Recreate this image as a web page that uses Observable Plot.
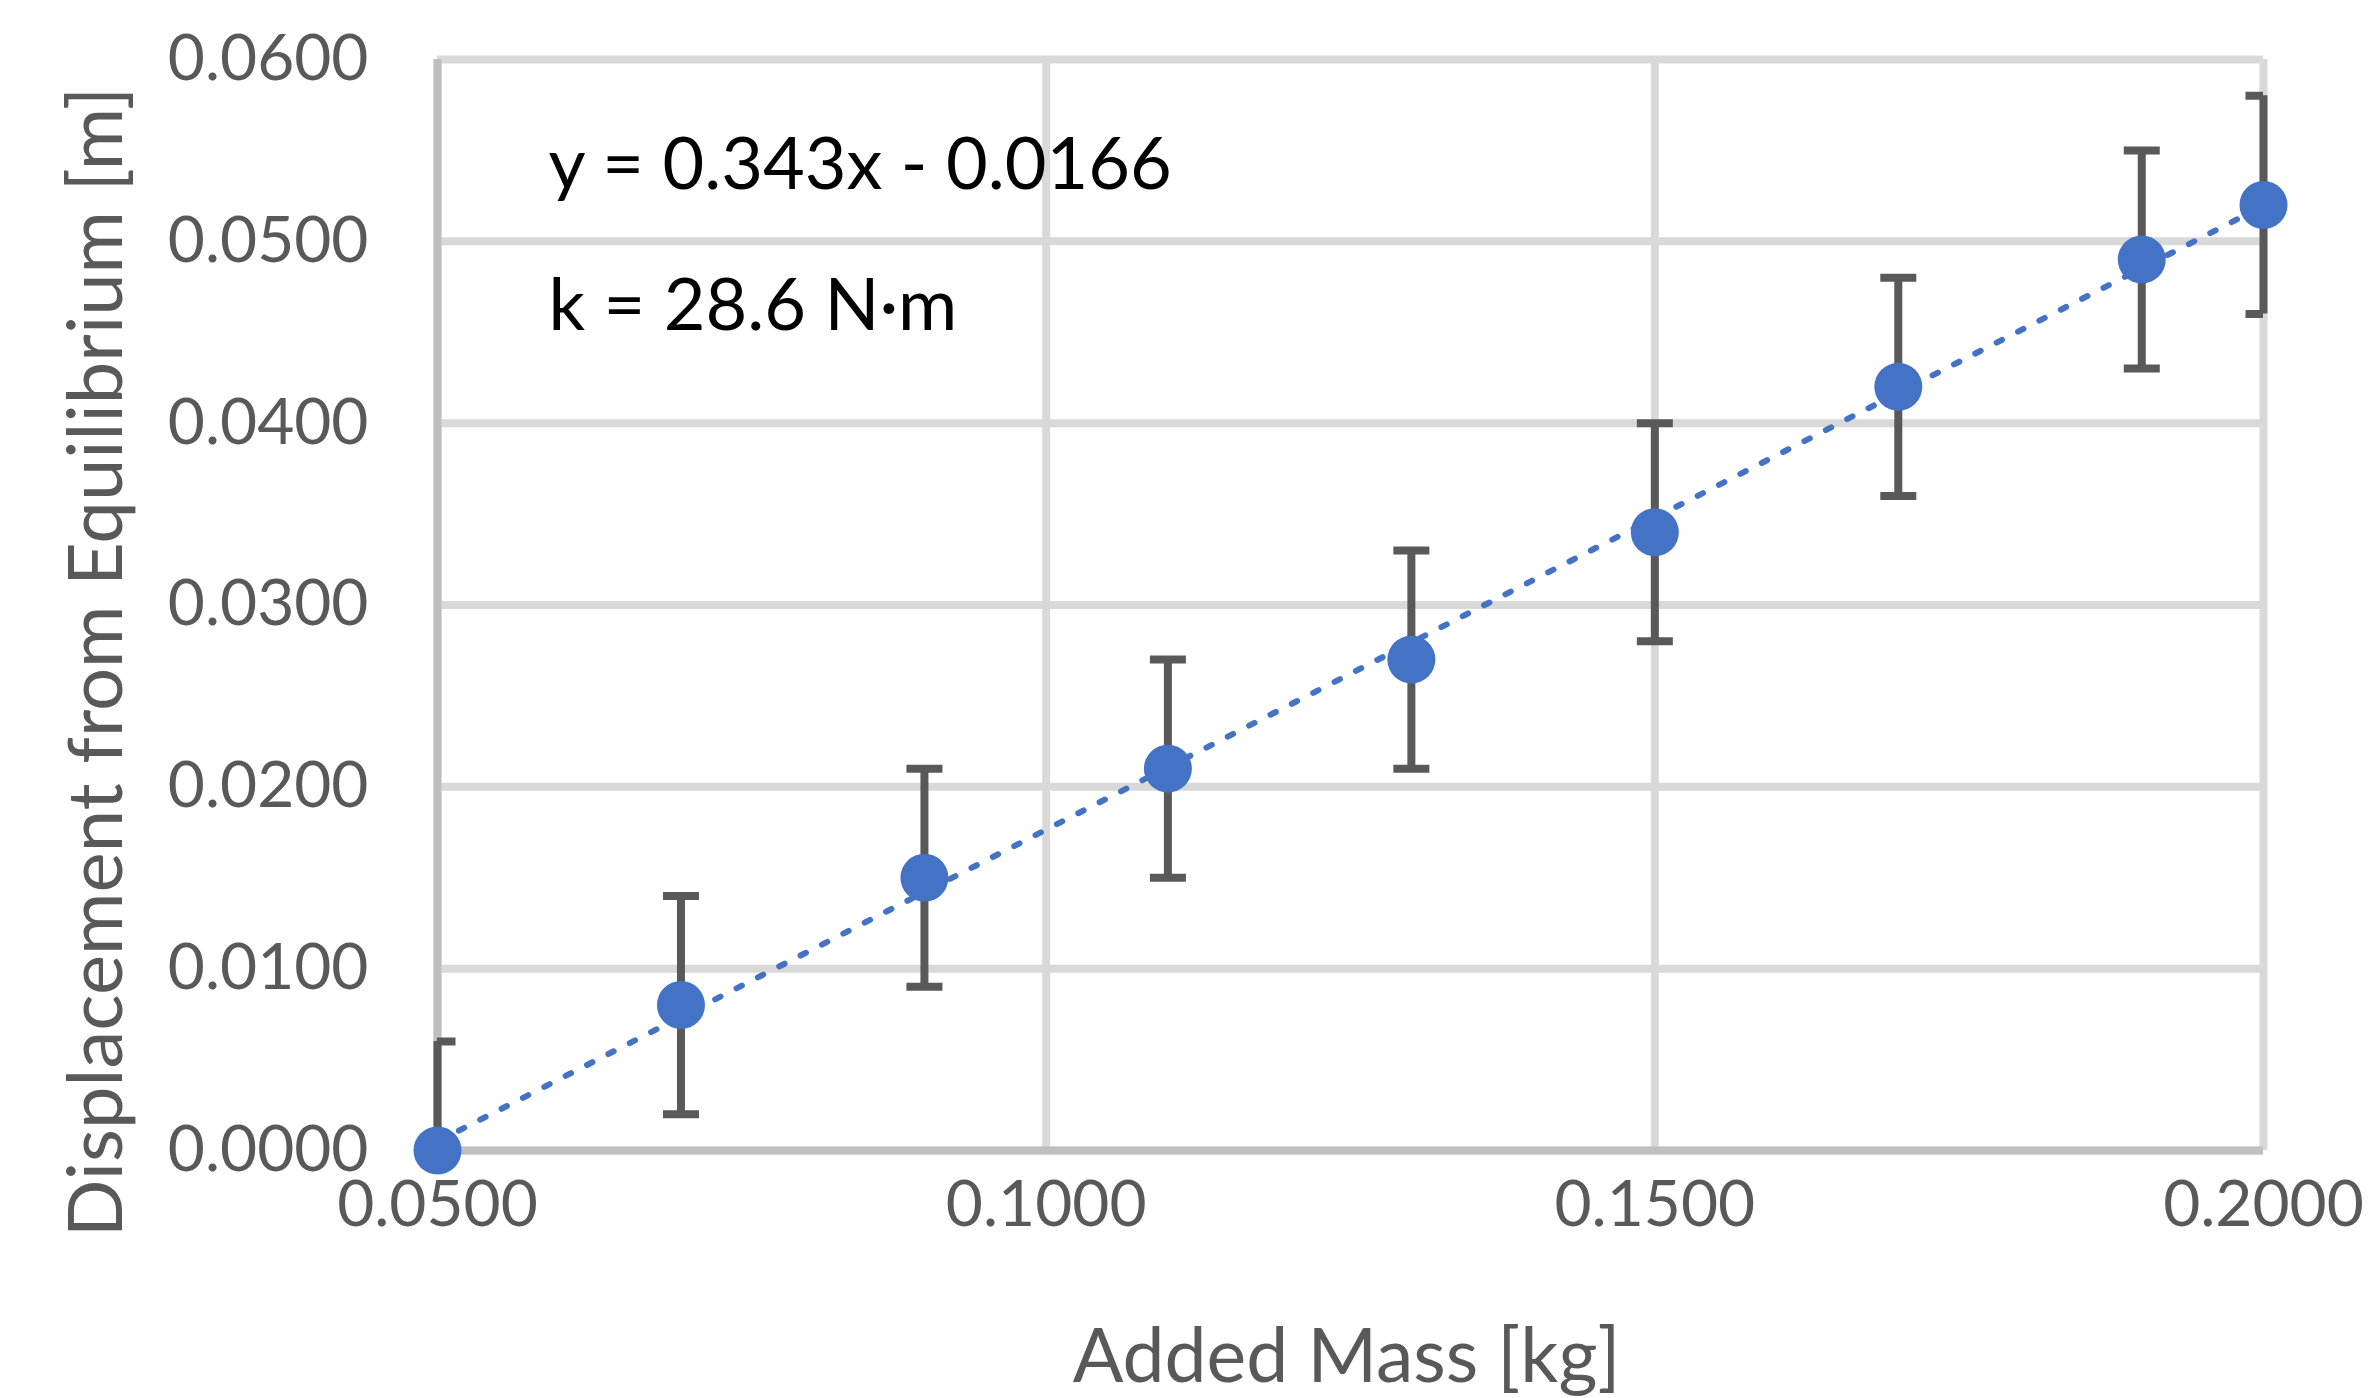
<!DOCTYPE html>
<html>
<head>
<meta charset="utf-8">
<script src="https://cdn.jsdelivr.net/npm/d3@7"></script>
<script src="https://cdn.jsdelivr.net/npm/@observablehq/plot@0.6"></script>
<style>
html, body { margin: 0; padding: 0; background: #ffffff; }
#chart svg { display: block; }
</style>
</head>
<body>
<div id="chart"></div>
<script>
// ---- data ----
const mass = [0.05, 0.07, 0.09, 0.11, 0.13, 0.15, 0.17, 0.19, 0.20];
const displacement = [0.0000, 0.0080, 0.0150, 0.0210, 0.0270, 0.0340, 0.0420, 0.0490, 0.0520];
const uncertainty = [0.006, 0.006, 0.006, 0.006, 0.006, 0.006, 0.006, 0.006, 0.006];
const xTicks = [0.05, 0.10, 0.15, 0.20];
const yTicks = [0.00, 0.01, 0.02, 0.03, 0.04, 0.05, 0.06];
const xLabel = ["Added Mass [kg]"];
const yLabel = ["Displacement from Equilibrium [m]"];
const equationText = ["y = 0.343x - 0.0166"];
const springText = ["k = 28.6 N·m"];

const data = mass.map((m, i) => ({x: m, y: displacement[i], err: uncertainty[i]}));
const fmt = d3.format(".4f");
const capSymbol = {
  draw(context, size) {
    const h = Math.sqrt(size / Math.PI);
    context.moveTo(-h, 0);
    context.lineTo(h, 0);
  }
};

const chart = Plot.plot({
  width: 2372,
  height: 1398,
  marginLeft: 437,
  marginRight: 109,
  marginTop: 59,
  marginBottom: 248,
  style: {fontFamily: "Lato, 'Open Sans', sans-serif", background: "#ffffff", color: "#595959", overflow: "visible"},
  x: {domain: [xTicks[0], xTicks[xTicks.length - 1]]},
  y: {domain: [yTicks[0], yTicks[yTicks.length - 1]]},
  marks: [
    Plot.gridX(xTicks, {stroke: "#D9D9D9", strokeWidth: 8, strokeOpacity: 1}),
    Plot.gridY(yTicks, {stroke: "#D9D9D9", strokeWidth: 8, strokeOpacity: 1}),
    Plot.ruleX([xTicks[0]], {stroke: "#BFBFBF", strokeWidth: 8}),
    Plot.ruleY([yTicks[0]], {stroke: "#BFBFBF", strokeWidth: 8}),
    Plot.axisX({ticks: xTicks, tickFormat: fmt, tickSize: 0, tickPadding: 30, fontSize: 64, label: null}),
    Plot.axisY({ticks: yTicks, tickFormat: fmt, tickSize: 0, tickPadding: 69, fontSize: 64, label: null}),
    Plot.linearRegressionY(data, {x: "x", y: "y", ci: 0, stroke: "#4472C4", strokeWidth: 6, strokeDasharray: "6,18"}),
    Plot.ruleX(data, {x: "x", y1: d => Math.max(yTicks[0], d.y - d.err), y2: d => d.y + d.err, stroke: "#595959", strokeWidth: 8}),
    Plot.dot(data, {x: "x", y: d => d.y + d.err, symbol: capSymbol, r: 18, stroke: "#595959", strokeWidth: 8, fill: "none", clip: true}),
    Plot.dot(data, {x: "x", y: d => d.y - d.err, symbol: capSymbol, r: 18, stroke: "#595959", strokeWidth: 8, fill: "none", clip: true}),
    Plot.dot(data, {x: "x", y: "y", r: 24, fill: "#4472C4", stroke: "none"}),
    Plot.text(xLabel, {text: d => d, frameAnchor: "bottom", textAnchor: "middle", dx: -4, dy: 207, lineAnchor: "middle", fontSize: 75, fill: "#595959"}),
    Plot.text(yLabel, {text: d => d, frameAnchor: "left", textAnchor: "middle", rotate: -90, dx: -340, dy: 57, lineAnchor: "middle", fontSize: 76, fill: "#595959"}),
    Plot.text(equationText, {text: d => d, frameAnchor: "top-left", textAnchor: "start", dx: 111, dy: 106, lineAnchor: "middle", fontSize: 72, fill: "#000000"}),
    Plot.text(springText, {text: d => d, frameAnchor: "top-left", textAnchor: "start", dx: 111, dy: 247, lineAnchor: "middle", fontSize: 72, fill: "#000000"})
  ]
});
document.getElementById("chart").appendChild(chart);
</script>
</body>
</html>
